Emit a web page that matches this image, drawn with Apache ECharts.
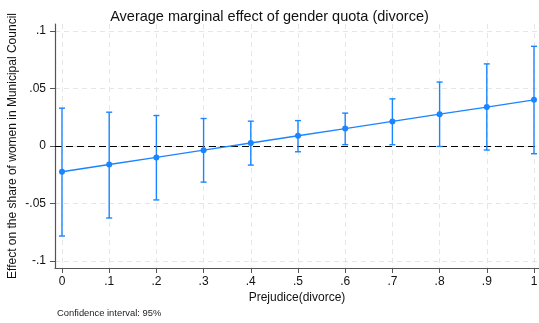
<!DOCTYPE html>
<html>
<head>
<meta charset="utf-8">
<script src="https://cdn.jsdelivr.net/npm/echarts@6/dist/echarts.min.js"></script>
<style>
  html, body { margin: 0; padding: 0; background: #fff; }
  #chart { width: 539px; height: 323px; }
</style>
</head>
<body>
<div id="chart"></div>
<script>
// Prejudice levels at which the marginal effect is evaluated
const prejudice = [0, 0.1, 0.2, 0.3, 0.4, 0.5, 0.6, 0.7, 0.8, 0.9, 1];
// Average marginal effect of the gender quota
const effect = [-0.0224, -0.0161, -0.0099, -0.0036, 0.0026, 0.0089, 0.0152, 0.0214, 0.0277, 0.0339, 0.0402];
// 95% confidence bounds
const ciLow  = [-0.0783, -0.0626, -0.0469, -0.0314, -0.0166, -0.0050, 0.0012, 0.0011, -0.0004, -0.0035, -0.0067];
const ciHigh = [0.0329, 0.0294, 0.0265, 0.0239, 0.0216, 0.0221, 0.0286, 0.0410, 0.0556, 0.0714, 0.0867];
// Axis tick values and their labels
const xTicks = [0, 0.1, 0.2, 0.3, 0.4, 0.5, 0.6, 0.7, 0.8, 0.9, 1];
const xTickLabels = ['0', '.1', '.2', '.3', '.4', '.5', '.6', '.7', '.8', '.9', '1'];
const yTicks = [-0.1, -0.05, 0, 0.05, 0.1];
const yTickLabels = ['-.1', '-.05', '0', '.05', '.1'];

const blue = '#1a85ff';
const font = 'Liberation Sans, Arial, sans-serif';

function fmt(list, labels, v) {
  for (let i = 0; i < list.length; i++) {
    if (Math.abs(list[i] - v) < 1e-9) return labels[i];
  }
  return '';
}

const chart = echarts.init(document.getElementById('chart'), null, { renderer: 'canvas' });

chart.setOption({
  animation: false,
  backgroundColor: '#fff',
  textStyle: { fontFamily: font },
  title: [
    {
      text: 'Average marginal effect of gender quota (divorce)',
      left: 'center',
      top: 4,
      textStyle: { fontFamily: font, fontSize: 14.5, fontWeight: 'normal', color: '#111' }
    },
    {
      text: 'Confidence interval: 95%',
      left: 52,
      top: 304,
      textStyle: { fontFamily: font, fontSize: 9.4, fontWeight: 'normal', color: '#222' }
    }
  ],
  grid: { left: 55, right: 0, top: 24, bottom: 55, containLabel: false, outerBoundsMode: 'none' },
  xAxis: {
    type: 'value',
    min: -0.0148,
    max: 1.0106,
    name: 'Prejudice(divorce)',
    nameLocation: 'middle',
    nameGap: 24,
    nameMoveOverlap: false,
    nameTextStyle: { fontFamily: font, fontSize: 12, color: '#111' },
    axisLine: { show: true, onZero: false, lineStyle: { color: '#555', width: 1.2 } },
    axisTick: { show: true, length: 5, customValues: xTicks, lineStyle: { color: '#555' } },
    axisLabel: {
      customValues: xTicks,
      margin: 8,
      fontFamily: font, fontSize: 12, color: '#111',
      formatter: v => fmt(xTicks, xTickLabels, v)
    },
    splitLine: { show: true, lineStyle: { color: '#e6e6e6', type: [5, 4], width: 1 } }
  },
  yAxis: {
    type: 'value',
    min: -0.1061,
    max: 0.1061,
    name: 'Effect on the share of women in Municipal Council',
    nameLocation: 'middle',
    nameGap: 36,
    nameMoveOverlap: false,
    nameTextStyle: { fontFamily: font, fontSize: 12, color: '#111' },
    axisLine: { show: true, onZero: false, lineStyle: { color: '#555', width: 1.2 } },
    axisTick: { show: true, length: 5, customValues: yTicks, lineStyle: { color: '#555' } },
    axisLabel: {
      customValues: yTicks,
      margin: 9,
      fontFamily: font, fontSize: 12, color: '#111',
      formatter: v => fmt(yTicks, yTickLabels, v)
    },
    splitLine: { show: true, lineStyle: { color: '#e6e6e6', type: [5, 4], width: 1 } }
  },
  series: [
    {
      // confidence interval caps
      type: 'custom',
      data: prejudice.map((p, i) => [p, ciLow[i], ciHigh[i]]),
      renderItem: function (params, api) {
        const x = api.value(0);
        const lo = api.coord([x, api.value(1)]);
        const hi = api.coord([x, api.value(2)]);
        const half = 3;
        const style = { stroke: blue, lineWidth: 1.4, fill: null };
        return {
          type: 'group',
          children: [
            { type: 'line', shape: { x1: lo[0], y1: lo[1], x2: hi[0], y2: hi[1] }, style: style },
            { type: 'line', shape: { x1: lo[0] - half, y1: lo[1], x2: lo[0] + half, y2: lo[1] }, style: style },
            { type: 'line', shape: { x1: hi[0] - half, y1: hi[1], x2: hi[0] + half, y2: hi[1] }, style: style }
          ]
        };
      },
      z: 3
    },
    {
      type: 'line',
      data: prejudice.map((p, i) => [p, effect[i]]),
      symbol: 'circle',
      symbolSize: 6,
      showSymbol: true,
      lineStyle: { color: blue, width: 1.3 },
      itemStyle: { color: blue },
      z: 4,
      markLine: {
        silent: true,
        symbol: 'none',
        label: { show: false },
        lineStyle: { color: '#000', type: [7, 4], width: 1.2 },
        data: [{ yAxis: 0 }],
        z: 2
      }
    }
  ]
});
</script>
</body>
</html>
